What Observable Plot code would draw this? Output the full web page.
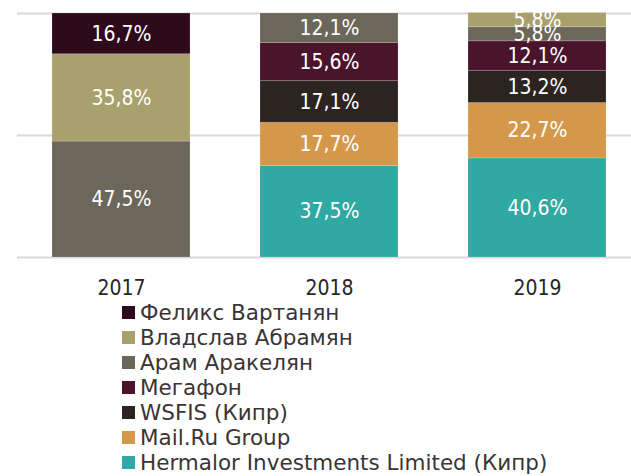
<!DOCTYPE html>
<html>
<head>
<meta charset="utf-8">
<script src="https://cdn.jsdelivr.net/npm/d3@7"></script>
<script src="https://cdn.jsdelivr.net/npm/@observablehq/plot@0.6"></script>
<style>
  html, body { margin: 0; padding: 0; background: #fff; overflow: hidden; width: 631px; height: 476px; }
  #chart { width: 631px; height: 300px; overflow: hidden; }
  #chart svg { display: block; max-width: none !important; }
  .legend { margin-left: 122px; font-family: "DejaVu Sans", sans-serif; font-size: 21.5px; color: #3a3434; }
  .legend div { height: 25px; line-height: 25px; display: flex; align-items: center; white-space: nowrap; }
  .legend span.sw { display: inline-block; width: 13px; height: 13px; margin-right: 5px; }
</style>
</head>
<body>
<div id="chart"></div>
<div class="legend" id="legend"></div>
<script>
const years = ["2017", "2018", "2019"];
// series listed bottom-to-top
const seriesNames = ["Hermalor Investments Limited (Кипр)", "Mail.Ru Group", "WSFIS (Кипр)", "Мегафон", "Арам Аракелян", "Владслав Абрамян", "Феликс Вартанян"];
const seriesColors = ["#2fa9a1", "#d5984b", "#2c2421", "#4a142b", "#6c675b", "#a9a16d", "#2e0b1a"];
const legendOrder = ["Феликс Вартанян", "Владслав Абрамян", "Арам Аракелян", "Мегафон", "WSFIS (Кипр)", "Mail.Ru Group", "Hermalor Investments Limited (Кипр)"];
// values per series, per year (2017, 2018, 2019); null = absent
const hermalor = [null, 37.5, 40.6];
const mailru   = [null, 17.7, 22.7];
const wsfis    = [null, 17.1, 13.2];
const megafon  = [null, 15.6, 12.1];
const aram     = [47.5, 12.1, 5.8];
const vladslav = [35.8, null, 5.8];
const feliks   = [16.7, null, null];
const seriesValues = [hermalor, mailru, wsfis, megafon, aram, vladslav, feliks];

const data = [];
seriesNames.forEach((s, i) => {
  years.forEach((y, j) => {
    const v = seriesValues[i][j];
    if (v != null) data.push({year: y, series: s, value: v, label: v.toFixed(1).replace(".", ",") + "%"});
  });
});

const labelFont = "'DejaVu Sans Condensed', 'DejaVu Sans', sans-serif";

const chart = Plot.plot({
  width: 641,
  height: 300,
  marginTop: 13,
  marginBottom: 43,
  marginLeft: 17,
  marginRight: 0,
  x: {domain: years, paddingInner: 0.336, paddingOuter: 0.168, label: null},
  y: {domain: [0, 100], ticks: [0, 50, 100], label: null},
  color: {domain: seriesNames, range: seriesColors},
  style: {fontFamily: labelFont, background: "transparent", maxWidth: "none"},
  marks: [
    Plot.gridY([0, 50, 100], {stroke: "#dcd7da", strokeOpacity: 1, strokeWidth: 2}),
    Plot.barY(data, {x: "year", y: "value", z: "series", fill: "series", order: seriesNames, stroke: "#ffffff", strokeOpacity: 0.15, strokeWidth: 1}),
    Plot.text(data, Plot.stackY({x: "year", y: "value", z: "series", order: seriesNames, text: "label", fill: "white", fontSize: 21, fontFamily: labelFont})),
    Plot.axisX({tickSize: 0, tickPadding: 23, fontSize: 21, fontFamily: labelFont, color: "#2a2626", label: null}),
    Plot.axisY({ticks: [], label: null})
  ]
});
document.getElementById("chart").appendChild(chart);

const legend = document.getElementById("legend");
legendOrder.forEach(name => {
  const row = document.createElement("div");
  const sw = document.createElement("span");
  sw.className = "sw";
  sw.style.background = seriesColors[seriesNames.indexOf(name)];
  row.appendChild(sw);
  row.appendChild(document.createTextNode(name));
  legend.appendChild(row);
});
</script>
</body>
</html>
